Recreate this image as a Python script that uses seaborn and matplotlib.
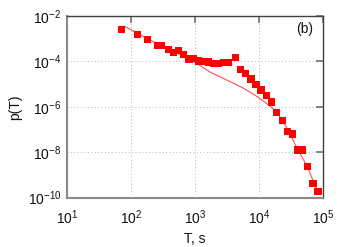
import matplotlib
matplotlib.use("Agg")
import matplotlib.pyplot as plt
import seaborn as sns
import pandas as pd
from matplotlib.ticker import LogFormatterMathtext, NullLocator

# Data
T_points = [71.5, 125, 179, 260, 300, 381, 456, 545, 653, 801, 935, 1119, 1340,
            1603, 1919, 2296, 2748, 3289, 4229, 5137, 6148, 7432, 8895, 10650,
            12970, 15520, 18710, 22900, 27400, 32800, 39800, 47600, 57000,
            69000, 82600]
p_points = [2.59e-3, 1.5e-3, 9.4e-4, 4.8e-4, 4.8e-4, 3.4e-4, 2.4e-4, 2.9e-4,
            1.98e-4, 1.28e-4, 1.35e-4, 1.04e-4, 1.01e-4, 9.4e-5, 8.3e-5, 8.3e-5,
            8.8e-5, 9.1e-5, 1.52e-4, 4.6e-5, 3.0e-5, 1.68e-5, 9.6e-6, 5.5e-6,
            3.07e-6, 1.63e-6, 5.9e-7, 2.5e-7, 8.0e-8, 6.4e-8, 1.26e-8, 1.26e-8,
            2.36e-9, 4.2e-10, 1.83e-10]

T_fit = [77.6, 197, 484, 925, 1705, 3500, 5580, 9570, 14700, 18900, 27100,
         38800, 55600, 79600]
p_fit = [3.6e-3, 8.8e-4, 2.6e-4, 1.04e-4, 3.4e-5, 1.3e-5, 6.8e-6, 2.7e-6,
         1.09e-6, 5.9e-7, 1.17e-7, 1.54e-8, 2.5e-9, 2.2e-10]

x_ticks = [1e1, 1e2, 1e3, 1e4, 1e5]
y_ticks = [1e-10, 1e-8, 1e-6, 1e-4, 1e-2]

sns.set_theme(style="white")
plt.rcParams["font.family"] = ["Liberation Sans", "DejaVu Sans"]
plt.rcParams["mathtext.fontset"] = "custom"
plt.rcParams["mathtext.rm"] = "Liberation Sans"
plt.rcParams["mathtext.it"] = "Liberation Sans:italic"
plt.rcParams["mathtext.bf"] = "Liberation Sans:bold"

pts = pd.DataFrame({"T": T_points, "p": p_points})
fit = pd.DataFrame({"T": T_fit, "p": p_fit})

fig = plt.figure(figsize=(3.46, 2.47), dpi=100)
ax = fig.add_axes([67 / 346, 1 - 197.7 / 247, (323.3 - 67) / 346, (197.7 - 16) / 247])

ax.set_xscale("log")
ax.set_yscale("log")
ax.set_xlim(1e1, 1e5)
ax.set_ylim(1e-10, 1e-2)

sns.lineplot(data=fit, x="T", y="p", ax=ax, color="#ff5050", lw=0.8, zorder=3)
sns.scatterplot(data=pts, x="T", y="p", ax=ax, marker="s", s=26, color="#ff0000",
                edgecolor="none", linewidth=0, zorder=4)

ax.set_xticks(x_ticks)
ax.set_yticks(y_ticks)
ax.xaxis.set_minor_locator(NullLocator())
ax.yaxis.set_minor_locator(NullLocator())
ax.xaxis.set_major_formatter(LogFormatterMathtext())
ax.yaxis.set_major_formatter(LogFormatterMathtext())

ax.grid(True, which="major", color="#b8b8b8", linestyle=(0, (1, 2.5)), linewidth=0.7)
ax.tick_params(which="major", direction="in", length=5, width=1.2, color="#707070",
               top=True, right=True, labelsize=10, labelcolor="#111111")
ax.tick_params(axis="x", pad=8)
ax.tick_params(axis="y", pad=4)

for side in ["left", "bottom"]:
    ax.spines[side].set_color("#8a8a8a")
    ax.spines[side].set_linewidth(1.5)
for side in ["top", "right"]:
    ax.spines[side].set_color("#404040")
    ax.spines[side].set_linewidth(1.0)

ax.set_xlabel("T, s", fontsize=10, color="#111111", labelpad=3)
ax.set_ylabel("p(T)", fontsize=10, color="#111111", labelpad=4)

ax.text(0.96, 0.93, "(b)", transform=ax.transAxes, ha="right", va="center",
        fontsize=10, color="#111111")

fig.savefig("out.png", dpi=100)
